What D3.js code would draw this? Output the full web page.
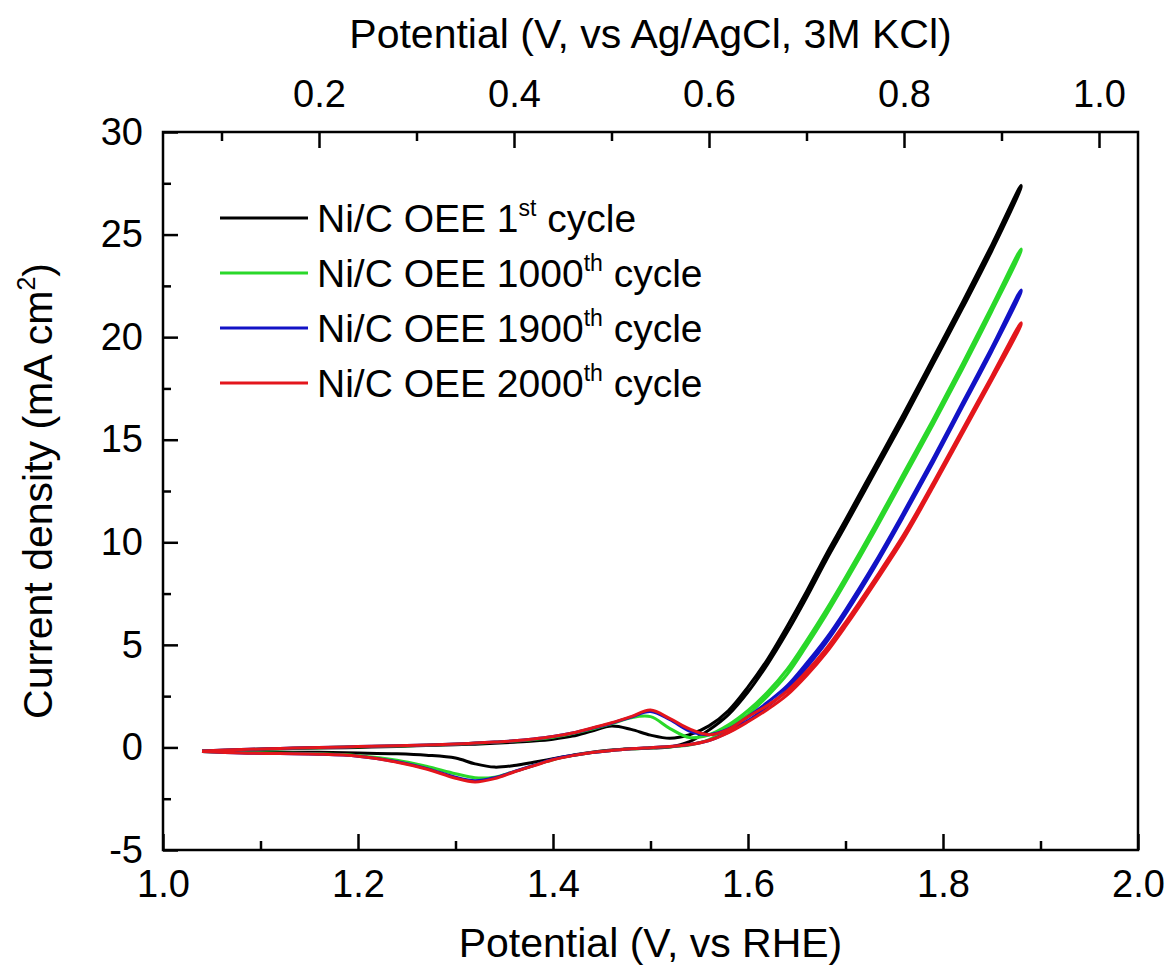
<!DOCTYPE html>
<html>
<head>
<meta charset="utf-8">
<script src="https://cdn.jsdelivr.net/npm/d3@7"></script>
<style>
  body { margin: 0; background: #fff; }
  svg { display: block; }
</style>
</head>
<body>
<script>
// potential grid (V vs RHE), shared by all curves
const potential = [1.04, 1.08, 1.12, 1.16, 1.20, 1.24, 1.27, 1.30, 1.32, 1.34, 1.36, 1.38, 1.40, 1.42, 1.44, 1.46, 1.48, 1.50, 1.52, 1.54, 1.56, 1.58, 1.60, 1.62, 1.64, 1.66, 1.68, 1.70, 1.73, 1.76, 1.79, 1.82, 1.85, 1.88];

// anodic (forward) and cathodic (return) sweeps, mA cm-2
const cycle1Fwd = [-0.18, -0.12, -0.07, -0.03, 0.0, 0.05, 0.09, 0.13, 0.16, 0.2, 0.25, 0.31, 0.4, 0.55, 0.8, 1.04, 0.88, 0.6, 0.45, 0.62, 1.05, 1.8, 2.95, 4.3, 5.9, 7.6, 9.4, 11.1, 13.7, 16.3, 19.0, 21.7, 24.5, 27.4];
const cycle1Rev = [-0.2, -0.22, -0.23, -0.24, -0.27, -0.31, -0.38, -0.52, -0.8, -0.96, -0.88, -0.72, -0.55, -0.38, -0.23, -0.13, -0.07, -0.03, 0.02, 0.28, 0.85, 1.6, 2.7, 4.05, 5.6, 7.3, 9.1, 10.8, 13.4, 16.0, 18.7, 21.4, 24.2, 27.3];
const cycle1000Fwd = [-0.18, -0.11, -0.06, -0.01, 0.03, 0.07, 0.11, 0.16, 0.2, 0.25, 0.31, 0.39, 0.5, 0.68, 0.9, 1.15, 1.45, 1.5, 0.92, 0.48, 0.62, 1.1, 1.8, 2.7, 3.8, 5.2, 6.7, 8.3, 10.8, 13.4, 16.0, 18.7, 21.5, 24.3];
const cycle1000Rev = [-0.2, -0.25, -0.28, -0.31, -0.4, -0.62, -0.92, -1.28, -1.48, -1.45, -1.18, -0.88, -0.6, -0.4, -0.25, -0.15, -0.07, -0.02, 0.03, 0.12, 0.38, 0.95, 1.6, 2.5, 3.55, 4.95, 6.45, 8.05, 10.55, 13.15, 15.75, 18.45, 21.25, 24.2];
const cycle1900Fwd = [-0.18, -0.1, -0.05, 0.0, 0.04, 0.08, 0.12, 0.17, 0.21, 0.26, 0.32, 0.41, 0.53, 0.7, 0.93, 1.18, 1.48, 1.75, 1.35, 0.8, 0.62, 0.9, 1.5, 2.2, 3.0, 4.1, 5.3, 6.7, 9.0, 11.5, 14.1, 16.8, 19.5, 22.3];
const cycle1900Rev = [-0.2, -0.27, -0.3, -0.33, -0.43, -0.7, -1.02, -1.45, -1.62, -1.48, -1.18, -0.88, -0.58, -0.39, -0.25, -0.15, -0.06, -0.01, 0.04, 0.14, 0.34, 0.75, 1.3, 2.0, 2.8, 3.9, 5.1, 6.5, 8.8, 11.3, 13.9, 16.6, 19.3, 22.2];
const cycle2000Fwd = [-0.18, -0.1, -0.05, 0.0, 0.04, 0.08, 0.12, 0.17, 0.21, 0.26, 0.32, 0.41, 0.53, 0.7, 0.95, 1.2, 1.5, 1.82, 1.4, 0.9, 0.62, 0.88, 1.5, 2.05, 2.75, 3.7, 4.8, 6.1, 8.2, 10.4, 12.9, 15.5, 18.1, 20.7];
const cycle2000Rev = [-0.2, -0.27, -0.3, -0.33, -0.43, -0.72, -1.05, -1.5, -1.68, -1.52, -1.2, -0.9, -0.6, -0.4, -0.25, -0.15, -0.06, -0.01, 0.04, 0.14, 0.34, 0.72, 1.25, 1.85, 2.55, 3.5, 4.6, 5.9, 8.0, 10.2, 12.7, 15.3, 17.9, 20.6];

const cycleNumbers = ["1", "1000", "1900", "2000"];
const cycleSuffix = ["st", "th", "th", "th"];
const seriesColors = ["#000000", "#2ad82a", "#1212c6", "#e3161c"];

const xMajorTicks = [1.0, 1.2, 1.4, 1.6, 1.8, 2.0];
const xMinorTicks = [1.1, 1.3, 1.5, 1.7, 1.9];
const topMajorTicks = [0.2, 0.4, 0.6, 0.8, 1.0];
const topMinorTicks = [0.1, 0.3, 0.5, 0.7, 0.9];
const yMajorTicks = [-5, 0, 5, 10, 15, 20, 25, 30];
const yMinorTicks = [-2.5, 2.5, 7.5, 12.5, 17.5, 22.5, 27.5];

const series = [
  [cycle1Fwd, cycle1Rev],
  [cycle1000Fwd, cycle1000Rev],
  [cycle1900Fwd, cycle1900Rev],
  [cycle2000Fwd, cycle2000Rev],
];

const width = 1171,
  height = 966;
const marginTop = 132,
  marginRight = 33,
  marginBottom = 116,
  marginLeft = 163;
const font = "'Liberation Sans', Arial, sans-serif";
const tickFont = 38;
const legendFont = 39;
const titleFont = 41;

const x = d3.scaleLinear([1.0, 2.0], [marginLeft, width - marginRight]);
// Ag/AgCl (3M KCl) scale is the RHE scale shifted by 0.96 V
const xTop = d3.scaleLinear([0.04, 1.04], [marginLeft, width - marginRight]);
const y = d3.scaleLinear([-5, 30], [height - marginBottom, marginTop]);

const svg = d3
  .select("body")
  .append("svg")
  .attr("width", width)
  .attr("height", height)
  .attr("viewBox", [0, 0, width, height]);

const styleAxis = (g) => {
  g.select(".domain").remove();
  g.selectAll(".tick line").attr("stroke", "#000").attr("stroke-width", 2.5);
  g.selectAll(".tick text")
    .attr("font-family", font)
    .attr("font-size", tickFont)
    .attr("fill", "#000");
};

// bottom axis
svg
  .append("g")
  .attr("transform", `translate(0,${height - marginBottom})`)
  .call(d3.axisBottom(x).tickValues(xMajorTicks).tickSize(-16).tickPadding(20).tickFormat(d3.format(".1f")))
  .call(styleAxis);
svg
  .append("g")
  .attr("transform", `translate(0,${height - marginBottom})`)
  .call(d3.axisBottom(x).tickValues(xMinorTicks).tickSize(-9).tickFormat(""))
  .call(styleAxis);

// top axis
svg
  .append("g")
  .attr("transform", `translate(0,${marginTop})`)
  .call(d3.axisTop(xTop).tickValues(topMajorTicks).tickSize(-16).tickPadding(25).tickFormat(d3.format(".1f")))
  .call(styleAxis);
svg
  .append("g")
  .attr("transform", `translate(0,${marginTop})`)
  .call(d3.axisTop(xTop).tickValues(topMinorTicks).tickSize(-9).tickFormat(""))
  .call(styleAxis);

// left axis (plain hyphen for negatives, as in the original)
svg
  .append("g")
  .attr("transform", `translate(${marginLeft},0)`)
  .call(d3.axisLeft(y).tickValues(yMajorTicks).tickSize(-15).tickPadding(20).tickFormat((d) => String(d)))
  .call(styleAxis);
svg
  .append("g")
  .attr("transform", `translate(${marginLeft},0)`)
  .call(d3.axisLeft(y).tickValues(yMinorTicks).tickSize(-8).tickFormat(""))
  .call(styleAxis);

// frame
svg
  .append("rect")
  .attr("x", marginLeft)
  .attr("y", marginTop)
  .attr("width", width - marginLeft - marginRight)
  .attr("height", height - marginTop - marginBottom)
  .attr("fill", "none")
  .attr("stroke", "#000")
  .attr("stroke-width", 2.5);

// curves: forward sweep then return sweep as one loop
const line = d3
  .line()
  .x((d) => x(d[0]))
  .y((d) => y(d[1]))
  .curve(d3.curveCatmullRom.alpha(0.5));

series.forEach(([fwd, rev], i) => {
  const pts = potential.map((v, k) => [v, fwd[k]]);
  const back = potential.map((v, k) => [v, rev[k]]).reverse();
  svg
    .append("path")
    .datum(pts.concat(back))
    .attr("fill", "none")
    .attr("stroke", seriesColors[i])
    .attr("stroke-width", 3)
    .attr("stroke-linejoin", "round")
    .attr("d", line);
});

// legend
const legend = svg.append("g").attr("transform", "translate(220,218)");
cycleNumbers.forEach((n, i) => {
  const row = legend.append("g").attr("transform", `translate(0,${i * 55})`);
  row
    .append("line")
    .attr("x1", 0)
    .attr("x2", 88)
    .attr("stroke", seriesColors[i])
    .attr("stroke-width", 3);
  const t = row
    .append("text")
    .attr("x", 97)
    .attr("y", 14)
    .attr("font-family", font)
    .attr("font-size", legendFont)
    .attr("fill", "#000");
  t.append("tspan").text(`Ni/C OEE ${n}`);
  t.append("tspan").attr("font-size", 23).attr("dy", -16).text(cycleSuffix[i]);
  t.append("tspan").attr("dy", 16).text(" cycle");
});

// axis titles
svg
  .append("text")
  .attr("x", (marginLeft + width - marginRight) / 2)
  .attr("y", 957)
  .attr("text-anchor", "middle")
  .attr("font-family", font)
  .attr("font-size", titleFont)
  .text("Potential (V, vs RHE)");

svg
  .append("text")
  .attr("x", (marginLeft + width - marginRight) / 2)
  .attr("y", 48)
  .attr("text-anchor", "middle")
  .attr("font-family", font)
  .attr("font-size", titleFont)
  .text("Potential (V, vs Ag/AgCl, 3M KCl)");

const yTitle = svg
  .append("text")
  .attr("transform", `translate(52,${(marginTop + height - marginBottom) / 2}) rotate(-90)`)
  .attr("text-anchor", "middle")
  .attr("font-family", font)
  .attr("font-size", titleFont);
yTitle.append("tspan").text("Current density (mA cm");
yTitle.append("tspan").attr("font-size", 25).attr("dy", -17).text("2");
yTitle.append("tspan").attr("dy", 17).text(")");
</script>
</body>
</html>
